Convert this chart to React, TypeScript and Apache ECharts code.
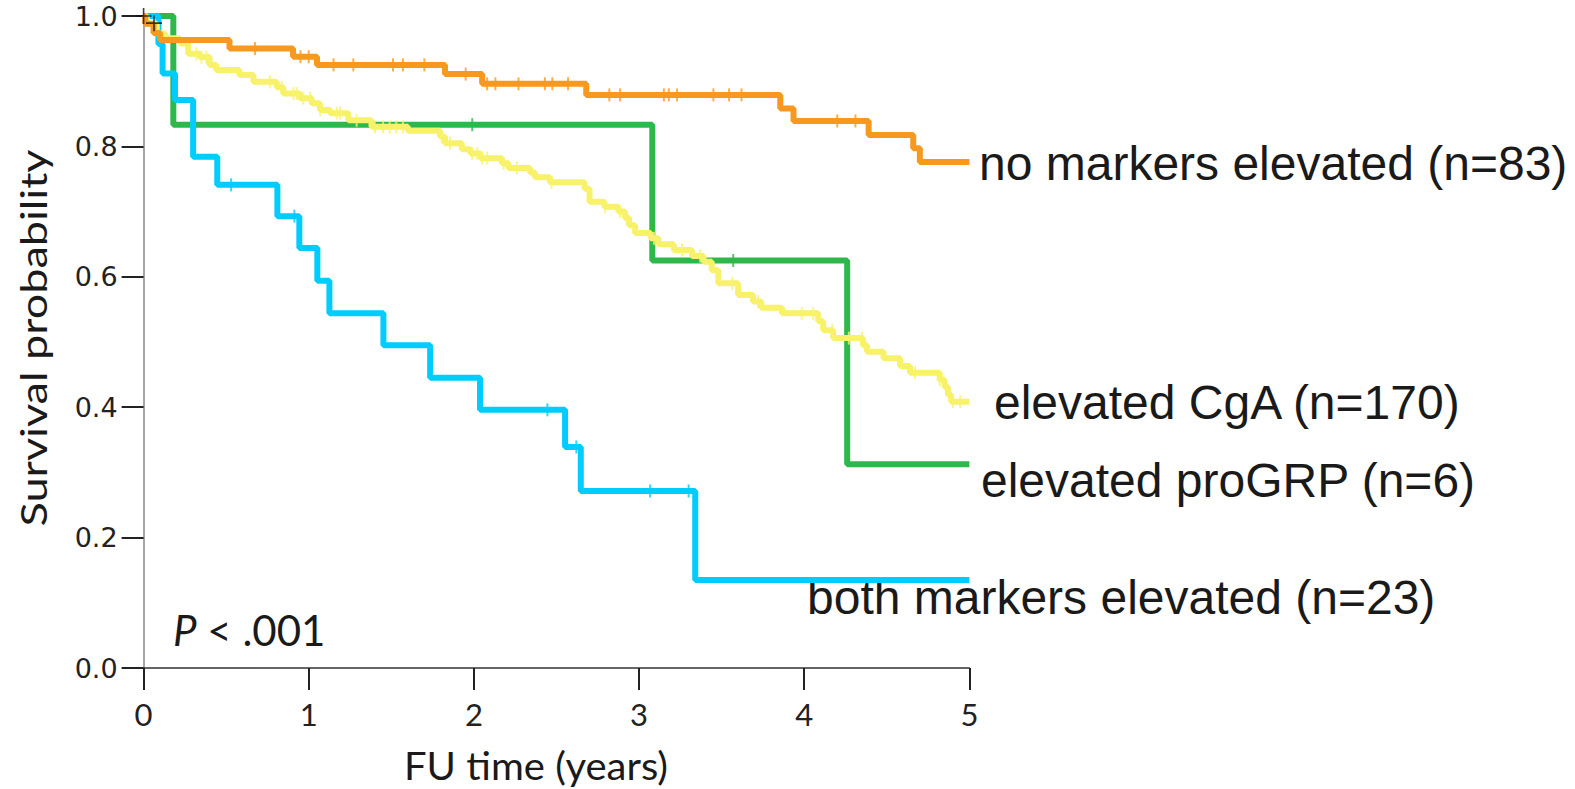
import React, { useEffect, useRef } from "react";
import * as echarts from "echarts";

// ---- Data ----
const xTicks = [0, 1, 2, 3, 4, 5];
const yTicks = [0, 0.2, 0.4, 0.6, 0.8, 1.0];
const endTime = 5;

const noneTimes = [0, 0.01, 0.06, 0.1, 0.52, 0.905, 1.05, 1.825, 2.05, 2.68, 3.855, 3.935, 4.39, 4.66, 4.7];
const noneSurv = [1.0, 0.988, 0.974, 0.963, 0.95, 0.9375, 0.925, 0.911, 0.896, 0.879, 0.858, 0.839, 0.8175, 0.797, 0.776];
const noneCensor = [0.675, 0.95, 1.0, 1.15, 1.27, 1.51, 1.57, 1.7, 1.95, 2.08, 2.13, 2.27, 2.43, 2.475, 2.57, 2.82, 2.885, 3.15, 3.18, 3.23, 3.45, 3.545, 3.62, 4.2, 4.31];

const cgaTimes = [0, 0.02, 0.08, 0.13, 0.22, 0.27, 0.34, 0.4, 0.44, 0.58, 0.665, 0.806, 0.846, 0.947, 1.018, 1.068, 1.13, 1.24, 1.38, 1.6, 1.795, 1.825, 1.927, 1.98, 2.04, 2.17, 2.21, 2.34, 2.37, 2.46, 2.67, 2.7, 2.79, 2.875, 2.915, 2.94, 2.976, 3.07, 3.117, 3.21, 3.32, 3.39, 3.44, 3.48, 3.6, 3.69, 3.74, 3.865, 4.085, 4.115, 4.175, 4.355, 4.38, 4.48, 4.58, 4.64, 4.82, 4.85, 4.87, 4.89];
const cgaSurv = [1, 0.988, 0.973, 0.966, 0.958, 0.942, 0.937, 0.925, 0.917, 0.9095, 0.899, 0.8906, 0.881, 0.874, 0.866, 0.856, 0.851, 0.84, 0.83, 0.824, 0.815, 0.805, 0.7955, 0.789, 0.782, 0.774, 0.767, 0.76, 0.7526, 0.745, 0.735, 0.715, 0.7075, 0.7, 0.69, 0.679, 0.667, 0.659, 0.65, 0.641, 0.632, 0.623, 0.61, 0.59, 0.572, 0.562, 0.5526, 0.544, 0.532, 0.518, 0.506, 0.495, 0.485, 0.475, 0.463, 0.453, 0.442, 0.431, 0.419, 0.4085];
const cgaCensor = [0.32, 0.35, 0.38, 0.766, 0.836, 0.907, 0.927, 0.967, 1.008, 1.07, 1.17, 1.19, 1.29, 1.4, 1.45, 1.49, 1.53, 1.57, 1.805, 1.855, 1.99, 2.02, 2.05, 2.08, 2.18, 2.26, 2.47, 2.795, 2.885, 2.925, 3.09, 3.26, 3.37, 3.565, 3.72, 3.985, 4.055, 4.17, 4.27, 4.35, 4.67, 4.82, 4.9, 4.945];

const grpTimes = [0, 0.18, 3.08, 4.26];
const grpSurv = [1, 0.8333, 0.625, 0.3125];
const grpCensor = [1.99, 3.57];

const bothTimes = [0, 0.09, 0.115, 0.19, 0.3, 0.446, 0.81, 0.943, 1.052, 1.125, 1.452, 1.735, 2.037, 2.552, 2.647, 3.34];
const bothSurv = [1, 0.957, 0.912, 0.871, 0.784, 0.741, 0.693, 0.644, 0.594, 0.544, 0.495, 0.445, 0.396, 0.339, 0.2715, 0.135];
const bothCensor = [0.53, 0.913, 2.445, 2.62, 3.067, 3.3];

const startMarks = [[0, 1.0], [0.063, 0.989]];

const labelNone = "no markers elevated (n=83)";
const labelCga = "elevated CgA (n=170)";
const labelGrp = "elevated proGRP (n=6)";
const labelBoth = "both markers elevated (n=23)";

// ---- helpers ----
function stepData(times: number[], surv: number[]) {
  const d = times.map((t, i) => [t, surv[i]]);
  d.push([endTime, surv[surv.length - 1]]);
  return d;
}
function survAt(times: number[], surv: number[], t: number) {
  let v = surv[0];
  for (let i = 0; i < times.length; i++) if (times[i] <= t) v = surv[i];
  return v;
}
function censorData(times: number[], surv: number[], cens: number[]) {
  return cens.map((t) => [t, survAt(times, surv, t)]);
}

const C_ORANGE = "#F7991F";
const C_YELLOW = "#F8F26A";
const C_GREEN = "#2EB84B";
const C_BLUE = "#00CCFF";

const plusPath = "path://M-1,-10 L1,-10 L1,-1 L10,-1 L10,1 L1,1 L1,10 L-1,10 L-1,1 L-10,1 L-10,-1 L-1,-1 Z";

export default function App() {
  const ref = useRef<HTMLDivElement>(null);
  useEffect(() => {
    if (!ref.current) return;
    const chart = echarts.init(ref.current, null, { renderer: "svg" });
    const line = (name: string, times: number[], surv: number[], color: string, z: number) => ({
      type: "line",
      name,
      step: "end",
      data: stepData(times, surv),
      showSymbol: false,
      symbol: "none",
      lineStyle: { color, width: 6 },
      z,
    });
    const cens = (name: string, times: number[], surv: number[], c: number[], color: string, z: number) => ({
      type: "scatter",
      name: name + " censored",
      data: censorData(times, surv, c),
      symbol: "rect",
      symbolSize: [2, 13],
      itemStyle: { color },
      z,
    });
    const labelFont = "'Liberation Sans', Arial, sans-serif";
    chart.setOption({
      animation: false,
      backgroundColor: "#ffffff",
      grid: { left: 143.6, right: 605.6, top: 16, bottom: 121, containLabel: false },
      xAxis: {
        type: "value",
        min: 0,
        max: 5,
        interval: 1,
        splitLine: { show: false },
        axisLine: { show: true, onZero: false, lineStyle: { color: "#333", width: 1.5 } },
        axisTick: { show: true, length: 22, lineStyle: { color: "#222", width: 2 } },
        axisLabel: {
          margin: 30,
          fontFamily: "Lato, 'Open Sans', sans-serif",
          fontSize: 31,
          color: "#222",
          formatter: (v: number) => (xTicks.includes(v) ? String(v) : ""),
        },
      },
      yAxis: {
        type: "value",
        min: 0,
        max: 1,
        interval: 0.2,
        splitLine: { show: false },
        axisLine: { show: true, onZero: false, lineStyle: { color: "#888", width: 1.5 } },
        axisTick: { show: true, length: 22, lineStyle: { color: "#222", width: 2 } },
        axisLabel: {
          margin: 26,
          fontFamily: "'DejaVu Sans', Verdana, sans-serif",
          fontSize: 27,
          color: "#222",
          formatter: (v: number) => (yTicks.some((t) => Math.abs(t - v) < 1e-6) ? v.toFixed(1) : ""),
        },
      },
      series: [
        line(labelGrp, grpTimes, grpSurv, C_GREEN, 2),
        cens(labelGrp, grpTimes, grpSurv, grpCensor, C_GREEN, 3),
        line(labelBoth, bothTimes, bothSurv, C_BLUE, 4),
        cens(labelBoth, bothTimes, bothSurv, bothCensor, C_BLUE, 5),
        line(labelCga, cgaTimes, cgaSurv, C_YELLOW, 6),
        cens(labelCga, cgaTimes, cgaSurv, cgaCensor, C_YELLOW, 7),
        line(labelNone, noneTimes, noneSurv, C_ORANGE, 8),
        cens(labelNone, noneTimes, noneSurv, noneCensor, C_ORANGE, 9),
        {
          type: "scatter",
          name: "start",
          data: startMarks,
          symbol: plusPath,
          symbolSize: 16,
          itemStyle: { color: "#111" },
          z: 10,
        },
      ],
      graphic: [
        {
          type: "text",
          x: 979,
          y: 163,
          style: { text: labelNone, font: `48px ${labelFont}`, fill: "#1a1a1a", verticalAlign: "middle", align: "left" },
        },
        {
          type: "text",
          x: 994,
          y: 402,
          style: { text: labelCga, font: `48px ${labelFont}`, fill: "#1a1a1a", verticalAlign: "middle", align: "left" },
        },
        {
          type: "text",
          x: 981,
          y: 480,
          style: { text: labelGrp, font: `48px ${labelFont}`, fill: "#1a1a1a", verticalAlign: "middle", align: "left" },
        },
        {
          type: "text",
          x: 807,
          y: 597,
          style: { text: labelBoth, font: `48px ${labelFont}`, fill: "#1a1a1a", verticalAlign: "middle", align: "left" },
        },
        {
          type: "text",
          x: 173,
          y: 630,
          style: {
            text: "{i|P}{n| < .001}",
            verticalAlign: "middle",
            align: "left",
            rich: {
              i: { fontFamily: "Lato, sans-serif", fontSize: 42, fontStyle: "italic", fill: "#1a1a1a" },
              n: { fontFamily: "Lato, sans-serif", fontSize: 42, fill: "#1a1a1a" },
            },
          },
        },
        {
          type: "text",
          x: 33,
          y: 338,
          rotation: Math.PI / 2,
          scaleY: 0.82,
          style: { text: "Survival probability", font: `45px Lato, sans-serif`, fill: "#1a1a1a", align: "center", verticalAlign: "middle" },
        },
        {
          type: "text",
          x: 536,
          y: 765,
          scaleY: 0.95,
          style: { text: "FU time (years)", font: `40px Lato, sans-serif`, fill: "#1a1a1a", align: "center", verticalAlign: "middle" },
        },
      ],
    });
    return () => chart.dispose();
  }, []);
  return <div ref={ref} style={{ position: "fixed", left: 0, top: 0, width: 1575, height: 789 }} />;
}
